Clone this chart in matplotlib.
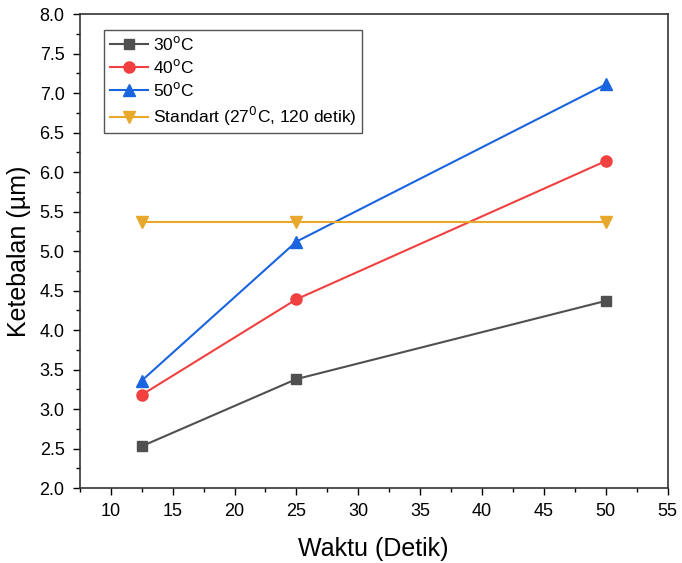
import matplotlib

matplotlib.use("Agg")
import matplotlib.pyplot as plt
from matplotlib.ticker import MultipleLocator, FormatStrFormatter

plt.rcParams["font.family"] = ["Liberation Sans", "DejaVu Sans"]

waktu = [12.5, 25, 50]
t30 = [2.53, 3.38, 4.37]
t40 = [3.18, 4.39, 6.14]
t50 = [3.36, 5.12, 7.11]
standart = [5.37, 5.37, 5.37]

labels = ["30$^{\\rm o}$C", "40$^{\\rm o}$C", "50$^{\\rm o}$C",
          "Standart (27$^{\\rm 0}$C, 120 detik)"]

fig = plt.figure(figsize=(6.82, 5.63), dpi=100)
ax = fig.add_axes([0.117, 0.133, 0.862, 0.842])

ax.plot(waktu, t30, "s-", color="#505050", lw=1.5, ms=7, label=labels[0])
ax.plot(waktu, t40, "o-", color="#f14040", lw=1.5, ms=8, label=labels[1])
ax.plot(waktu, t50, "^-", color="#1a64df", lw=1.5, ms=8, label=labels[2])
ax.plot(waktu, standart, "v-", color="#e8a82c", lw=1.5, ms=8, label=labels[3])

ax.set_xlim(7.5, 55)
ax.set_ylim(2.0, 8.0)
ax.xaxis.set_major_locator(MultipleLocator(5))
ax.xaxis.set_minor_locator(MultipleLocator(2.5))
ax.yaxis.set_major_locator(MultipleLocator(0.5))
ax.yaxis.set_minor_locator(MultipleLocator(0.25))
ax.yaxis.set_major_formatter(FormatStrFormatter("%.1f"))
ax.tick_params(which="both", direction="out", labelsize=13, top=False, right=False)
ax.tick_params(which="major", length=5, width=1, pad=6)
ax.tick_params(which="minor", length=3, width=1)
ax.set_xticks([10, 15, 20, 25, 30, 35, 40, 45, 50, 55])
for s in ax.spines.values():
    s.set_linewidth(1.2)
    s.set_color("#333333")

ax.set_xlabel("Waktu (Detik)", fontsize=18, labelpad=12)
ax.set_ylabel("Ketebalan (µm)", fontsize=18, labelpad=6)

leg = ax.legend(loc="upper left", bbox_to_anchor=(0.027, 0.985), fontsize=12.5,
                fancybox=False, framealpha=1, edgecolor="#555555",
                handlelength=2.2, handletextpad=0.3, labelspacing=0.3,
                borderpad=0.3)
leg.get_frame().set_linewidth(1.0)

fig.savefig("out.png", dpi=100)
